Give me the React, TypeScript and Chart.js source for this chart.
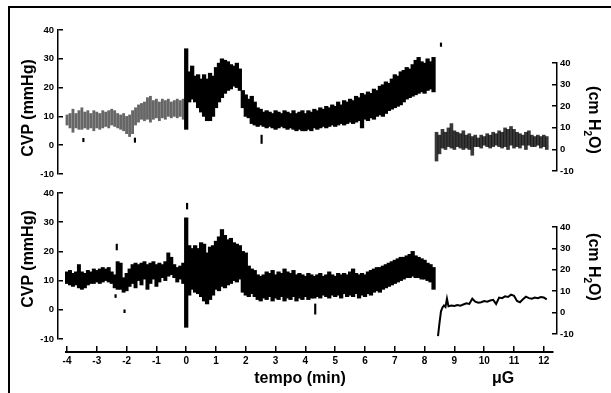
import React, { useEffect, useRef } from "react";
import { Chart, registerables } from "chart.js";

Chart.register(...registerables);

// ---------------- data (mmHg, sampled every 0.1 min) ----------------
const STEP = 0.1;

// Upper panel
const TOP_PRE_START = -4.0; // -4.0 .. -0.1
const TOP_PRE_HI = [
  10.5, 11, 12.5, 11, 12, 13, 11.5, 12, 11, 12,
  11.5, 11, 12, 11.5, 12, 12.5, 12, 11, 10.5, 11,
  10, 10.5, 12, 13, 14, 14.5, 15, 16.5, 17, 15.5,
  16, 15, 16, 15.5, 16, 15, 15.5, 16, 15.5, 16,
];
const TOP_PRE_LO = [
  7, 6, 4.5, 6, 5.5, 5.5, 6, 5.5, 6, 5,
  6, 5.5, 6, 6.5, 6, 7, 6.5, 6, 5.5, 5,
  4, 3, 4, 7, 8, 9, 8.5, 9, 8, 9,
  9.5, 8.5, 9.5, 9, 10, 9.5, 10, 9.5, 10, 9,
];

const TOP_MAIN_START = 0.0; // 0.0 .. 8.3
const TOP_MAIN_HI = [
  33.5, 25.5, 27.5, 24, 24.5, 23, 24.5, 23, 25, 24,
  27, 28.5, 30, 29.5, 29, 28, 27.5, 28.5, 26.5, 19,
  17.5, 16, 17, 15, 13, 12.5, 11.5, 12, 11.5, 11,
  12, 11.5, 11, 12, 11.5, 11, 12, 11, 11.5, 12,
  11, 12, 11.5, 12.5, 12, 13, 12.5, 13.5, 13, 14,
  13.5, 15, 14, 15.5, 15, 16, 15.5, 17, 16.5, 18,
  17.5, 18.5, 18, 19.5, 19, 20.5, 21, 22, 21.5, 23,
  24.5, 24, 25.5, 26, 27, 26.5, 28, 29.5, 30.5, 29,
  28.5, 30, 29, 30.5,
];
const TOP_MAIN_LO = [
  5.5, 15, 16, 15, 13, 11.5, 10, 8.5, 8.5, 10,
  13, 15, 16.5, 18, 19, 19.5, 20.5, 20, 19, 13,
  10, 9.5, 7.5, 7, 6.5, 7, 6.5, 6, 6.5, 6,
  5.5, 6, 6.5, 6, 5.5, 6, 5.5, 5, 5.5, 5,
  5, 5.5, 5, 6, 5.5, 6, 6.5, 6, 6.5, 7,
  6.5, 7, 7.5, 7, 7.5, 8, 7.5, 8, 8.5, 6,
  9, 8.5, 9.5, 9, 10, 10.5, 10, 11, 12, 12.5,
  13, 13.5, 14, 15, 16, 16.5, 17, 17.5, 18, 18.5,
  18, 19, 19.5, 18.5,
];

const TOP_POST_START = 8.4; // 8.4 .. 12.1
const TOP_POST_HI = [
  4.5, 3.5, 5.5, 4.5, 6, 7.5, 5, 4.5, 4, 5,
  3.5, 4, 3, 3.5, 2.5, 3.5, 3, 4, 3.5, 4.5,
  4, 5, 4.5, 6, 5.5, 6.5, 5.5, 4.5, 4, 3.5,
  4.5, 5, 3.5, 3, 3.5, 3, 3.5, 3,
];
const TOP_POST_LO = [
  -5.5, -3, -1, -1.5, -0.5, -1, -1.5, -0.5, -1, -1.5,
  -1, -1.5, -3.5, -0.5, -0.5, -1, 0, -0.5, -1, -0.5,
  0, -0.5, -1, -0.5, -1.5, 0, -1, -0.5, -1, 0,
  -1.5, 0, -0.5, -0.5, 0, -1, -0.5, -1.5,
];

const TOP_MARK_T = [-3.45, -1.72, 2.53, 8.55];
const TOP_MARK_LO = [1.2, 1, 0.6, 34.3];
const TOP_MARK_HI = [2.4, 2.5, 3.5, 35.5];

// Lower panel
const BOT_PRE_START = -4.0; // -4.0 .. -0.1
const BOT_PRE_HI = [
  13, 13.5, 12.5, 13, 15.5, 13, 12.5, 13.5, 13, 14,
  13.5, 14, 14.5, 14, 14.5, 13, 12, 16.5, 16, 11,
  12.5, 14, 15.5, 16, 15.5, 16, 16.5, 15.5, 16, 16.5,
  15.5, 16, 15.5, 16.5, 19.5, 18, 15.5, 14.5, 15, 16,
];
const BOT_PRE_LO = [
  9, 8.5, 8, 8.5, 7.5, 7, 7.5, 8.5, 9, 9,
  9.5, 9, 9.5, 10, 9.5, 9, 7.5, 7, 7, 6,
  6.5, 8, 9, 7.5, 10, 8.5, 10.5, 7, 9, 10.5,
  8, 9.5, 11, 10, 11.5, 12, 11, 9.5, 10.5, 9,
];

const BOT_MAIN_START = 0.0; // 0.0 .. 8.3
const BOT_MAIN_HI = [
  31.5, 22, 21, 22, 21, 23, 22.5, 19.5, 21.5, 22,
  23.5, 25, 27.5, 25.5, 24, 24.5, 23, 22.5, 22, 20,
  19.5, 15, 14, 13.5, 12, 11.5, 12, 13, 12.5, 13.5,
  12, 13, 12.5, 14, 13, 12.5, 13.5, 12, 12.5, 12,
  11.5, 12.5, 12, 11.5, 12, 12.5, 11.5, 12, 13, 12,
  11.5, 12.5, 12, 12.5, 12, 13, 14, 12.5, 12, 12.5,
  12, 13, 13.5, 14, 14.5, 14.5, 15, 15.5, 16, 16.5,
  17, 17.5, 18, 18, 18.5, 19, 20, 18.5, 18, 17.5,
  17, 16, 15.5, 14.5,
];
const BOT_MAIN_LO = [
  -6, 5, 7, 6, 5.5, 4.5, 3, 2, 3.5, 5,
  7, 6.5, 8, 7.5, 8.5, 9, 10, 9.5, 10.5, 6,
  5, 4.5, 5.5, 4.5, 3.5, 3, 4, 3.5, 4.5, 3,
  4, 3.5, 4.5, 3, 4, 3.5, 4.5, 3, 4, 3.5,
  4.5, 3.5, 4, 4, 4.5, 4, 5, 4.5, 4, 5,
  4.5, 5, 4, 5.5, 4.5, 5, 4.5, 5.5, 4, 5,
  4.5, 5.5, 5, 6, 6.5, 6, 7, 7.5, 8, 8.5,
  9, 9.5, 10, 10.5, 11, 11, 11.5, 11, 11, 10.5,
  10.5, 10, 9.5, 7,
];

const BOT_POST_T = [
  8.45, 8.5, 8.55, 8.6, 8.65, 8.7, 8.75, 8.8, 8.9, 9.0,
  9.1, 9.2, 9.3, 9.4, 9.5, 9.6, 9.7, 9.8, 9.9, 10.0,
  10.1, 10.2, 10.3, 10.4, 10.5, 10.6, 10.7, 10.8, 10.9, 11.0,
  11.1, 11.2, 11.3, 11.4, 11.5, 11.6, 11.7, 11.8, 11.9, 12.0, 12.1,
];
const BOT_POST_V = [
  -9, -4.5, -0.5, 0.8, 1.5, 1, 3.8, 1.2, 1.5, 1.3,
  1.6, 1.4, 1.8, 2.2, 2.0, 3.8, 2.8, 2.4, 2.6, 3.0,
  2.8, 3.2, 3.4, 2.0, 4.2, 4.0, 4.6, 4.4, 5.2, 4.8,
  3.0, 2.6, 3.6, 4.5, 4.0, 3.8, 4.2, 4.0, 4.4, 4.2, 3.6,
];

const BOT_MARK_T = [-2.37, -2.33, -2.07, 0.03, 4.33];
const BOT_MARK_LO = [4.2, 20.5, -1, 34.5, -1.5];
const BOT_MARK_HI = [5.2, 22.5, 0, 36.5, 2];

const MMHG_TICKS = { min: -10, max: 40, step: 10 };
const CMH2O_TICKS = { min: -10, max: 40, step: 10 };
const MIN_TICKS = { step: 1 };

// ---------------- layout ----------------
const W = 611;
const H = 393;
const T_PX0 = 67; // pixel of t = -4
const PX_PER_MIN = 29.8;
const FAMILY = "'Liberation Sans', Arial, Helvetica, sans-serif";

function tAt(px: number) {
  return -4 + (px - T_PX0) / PX_PER_MIN;
}

function times(start: number, n: number) {
  const out: number[] = [];
  for (let i = 0; i < n; i++) out.push(Math.round((start + i * STEP) * 100) / 100);
  return out;
}

function bars(start: number, hi: number[], lo: number[]) {
  return times(start, hi.length).map((t, i) => ({ x: t, y: [lo[i], hi[i]] }));
}

function marks(ts: number[], lo: number[], hi: number[]) {
  return ts.map((t, i) => ({ x: t, y: [lo[i], hi[i]] }));
}

const base = {
  responsive: false,
  animation: false as const,
  events: [] as any[],
  plugins: { legend: { display: false }, tooltip: { enabled: false } },
};

function dataChart(area: [number, number, number, number], datasets: any[]) {
  const [l, t, r, b] = area;
  return {
    type: "bar",
    data: { datasets },
    options: {
      ...base,
      layout: { padding: { left: l, top: t, right: W - r, bottom: H - b } },
      scales: {
        x: { type: "linear", display: false, min: tAt(l), max: tAt(r), offset: false },
        y: { type: "linear", display: false, min: MMHG_TICKS.min, max: MMHG_TICKS.max },
      },
    },
  };
}

function barSet(data: any[], color: string, thickness: number) {
  return {
    type: "bar",
    data,
    backgroundColor: color,
    borderWidth: 0,
    barThickness: thickness,
    skipNull: true,
  };
}

function yAxisChart(side: "left" | "right", area: [number, number, number, number], ticks: { min: number; max: number; step: number }, space: number) {
  const [l, t, r, b] = area;
  const padding =
    side === "left"
      ? { left: l - space, right: W - r, top: t, bottom: H - b }
      : { left: l, right: W - r - space, top: t, bottom: H - b };
  return {
    type: "line",
    data: { datasets: [] },
    options: {
      ...base,
      layout: { padding },
      scales: {
        x: { type: "linear", display: false, min: 0, max: 1 },
        y: {
          type: "linear",
          position: side,
          min: ticks.min,
          max: ticks.max,
          afterFit: (s: any) => {
            s.width = space;
          },
          ticks: {
            stepSize: ticks.step,
            color: "#000",
            font: { family: FAMILY, size: 9.5, weight: "bold" },
            padding: side === "left" ? 4 : 3,
          },
          grid: { drawOnChartArea: true, drawTicks: false, color: "#000", lineWidth: 1.5 },
          border: { display: true, color: "#000", width: 1.5 },
        },
      },
    },
  };
}

function xAxisChart(area: [number, number, number, number], space: number) {
  const [l, t, r, b] = area;
  return {
    type: "line",
    data: { datasets: [] },
    options: {
      ...base,
      layout: { padding: { left: l, right: W - r, top: t, bottom: H - b - space } },
      scales: {
        y: { type: "linear", display: false, min: 0, max: 1 },
        x: {
          type: "linear",
          position: "bottom",
          min: tAt(l),
          max: tAt(r),
          afterFit: (s: any) => {
            s.height = space;
          },
          ticks: {
            stepSize: MIN_TICKS.step,
            includeBounds: false,
            autoSkip: false,
            maxRotation: 0,
            color: "#000",
            font: { family: FAMILY, size: 10, weight: "bold" },
            padding: 3,
          },
          grid: { drawOnChartArea: true, drawTicks: false, color: "#000", lineWidth: 1.5 },
          border: { display: true, color: "#000", width: 2 },
        },
      },
    },
  };
}

function buildConfigs(): any[] {
  const topArea: [number, number, number, number] = [58, 30, 557, 174];
  const botArea: [number, number, number, number] = [58, 193, 557, 339];
  return [
    dataChart(topArea, [
      barSet(bars(TOP_PRE_START, TOP_PRE_HI, TOP_PRE_LO), "rgba(0,0,0,0.6)", 2.2),
      barSet(bars(TOP_MAIN_START, TOP_MAIN_HI, TOP_MAIN_LO), "#000", 3.6),
      barSet(bars(TOP_POST_START, TOP_POST_HI, TOP_POST_LO), "rgba(0,0,0,0.78)", 3),
      barSet(marks(TOP_MARK_T, TOP_MARK_LO, TOP_MARK_HI), "#000", 1.5),
    ]),
    dataChart(botArea, [
      barSet(bars(BOT_PRE_START, BOT_PRE_HI, BOT_PRE_LO), "#000", 3.3),
      barSet(bars(BOT_MAIN_START, BOT_MAIN_HI, BOT_MAIN_LO), "#000", 3.6),
      barSet(marks(BOT_MARK_T, BOT_MARK_LO, BOT_MARK_HI), "#000", 1.5),
      {
        type: "line",
        data: BOT_POST_T.map((t, i) => ({ x: t, y: BOT_POST_V[i] })),
        borderColor: "#000",
        borderWidth: 2,
        pointRadius: 0,
        tension: 0,
      },
    ]),
    yAxisChart("left", [58, 30, 63, 174], MMHG_TICKS, 40),
    yAxisChart("left", [58, 193, 63, 339], MMHG_TICKS, 40),
    yAxisChart("right", [552, 63, 557, 171], CMH2O_TICKS, 30),
    yAxisChart("right", [552, 227, 557, 334], CMH2O_TICKS, 30),
    xAxisChart([66, 346, 553, 352], 20),
  ];
}

const titleStyle = (cx: number, cy: number, rot: number, size: number): React.CSSProperties => ({
  position: "absolute",
  left: cx,
  top: cy,
  transform: `translate(-50%, -50%) rotate(${rot}deg)`,
  fontFamily: FAMILY,
  fontWeight: "bold",
  fontSize: size,
  lineHeight: 1,
  whiteSpace: "nowrap",
  color: "#000",
  pointerEvents: "none",
});

export default function App() {
  const refs = useRef<(HTMLCanvasElement | null)[]>([]);
  const n = 7;

  useEffect(() => {
    const charts: Chart[] = [];
    const cfgs = buildConfigs();
    cfgs.forEach((cfg, i) => {
      const c = refs.current[i];
      if (c) charts.push(new Chart(c, cfg));
    });
    return () => {
      charts.forEach((c) => c.destroy());
    };
  }, []);

  const canvases = [];
  for (let i = 0; i < n; i++) {
    canvases.push(
      <canvas
        key={i}
        ref={(el) => {
          refs.current[i] = el;
        }}
        width={W}
        height={H}
        style={{ position: "absolute", left: 0, top: 0, width: W, height: H }}
      />
    );
  }

  return (
    <div
      style={{
        position: "fixed",
        left: 0,
        top: 0,
        width: W,
        height: H,
        background: "#fff",
        overflow: "hidden",
      }}
    >
      <div
        style={{
          position: "absolute",
          left: 8,
          top: 6,
          width: W,
          height: H,
          borderTop: "2px solid #000",
          borderLeft: "2px solid #000",
        }}
      />
      {canvases}
      <div style={titleStyle(28, 108, -90, 16)}>CVP (mmHg)</div>
      <div style={titleStyle(28, 259, -90, 16)}>CVP (mmHg)</div>
      <div style={titleStyle(592, 120, 90, 16)}>
        (cm H<sub style={{ fontSize: 10 }}>2</sub>O)
      </div>
      <div style={titleStyle(592, 267, 90, 16)}>
        (cm H<sub style={{ fontSize: 10 }}>2</sub>O)
      </div>
      <div style={titleStyle(300, 378, 0, 16)}>tempo (min)</div>
      <div style={titleStyle(503, 378, 0, 16)}>μG</div>
    </div>
  );
}
